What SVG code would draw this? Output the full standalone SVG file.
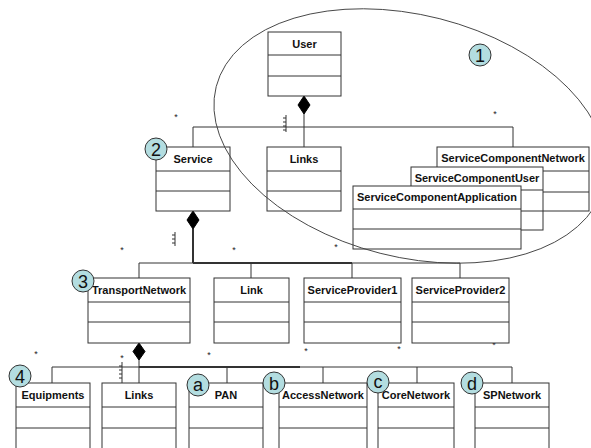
<svg xmlns="http://www.w3.org/2000/svg" width="591" height="448" viewBox="0 0 591 448">
<style>
.box rect{fill:#fff;stroke:#333;stroke-width:1}
.box line{stroke:#333;stroke-width:1}
.box text{font-family:"Liberation Sans",Arial,sans-serif;font-weight:bold;font-size:11px;fill:#111;text-anchor:middle}
.c line,.c path{stroke:#333;stroke-width:1;fill:none}
.c .thick{stroke-width:2}
.dia{fill:#000;stroke:#000}
.ast{font-family:"Liberation Sans",Arial,sans-serif;font-size:9px;fill:#222;text-anchor:middle}
.hatch{stroke:#555;stroke-width:1;fill:none}
.num circle{fill:#b3dde0;stroke:#333;stroke-width:1}
.num text{font-family:"Liberation Sans",Arial,sans-serif;font-size:18px;fill:#111;text-anchor:middle}
</style>
<rect width="591" height="448" fill="#fff"/>

<g id="connectors" class="c">
  <line x1="304" y1="114" x2="304" y2="147"/>
  <line x1="193" y1="127" x2="513" y2="127"/>
  <line x1="193" y1="127" x2="193" y2="147"/>
  <line x1="513" y1="127" x2="513" y2="147"/>
  <line class="thick" x1="193" y1="229" x2="193" y2="263"/>
  <line x1="139" y1="263" x2="460" y2="263"/>
  <line class="thick" x1="193" y1="263" x2="352" y2="263"/>
  <line x1="139" y1="263" x2="139" y2="278"/>
  <line x1="251" y1="263" x2="251" y2="278"/>
  <line x1="352" y1="263" x2="352" y2="278"/>
  <line x1="460" y1="263" x2="460" y2="278"/>
  <line x1="139" y1="360" x2="139" y2="383"/>
  <line x1="52" y1="367" x2="512" y2="367"/>
  <line class="thick" x1="139" y1="367" x2="300" y2="367"/>
  <line x1="52" y1="367" x2="52" y2="383"/>
  <line x1="227" y1="367" x2="227" y2="383"/>
  <line x1="323" y1="367" x2="323" y2="383"/>
  <line x1="417" y1="367" x2="417" y2="383"/>
  <line x1="512" y1="367" x2="512" y2="383"/>
  <polygon class="dia" points="304,96 310,105 304,114 298,105"/>
  <polygon class="dia" points="193,211 199,220 193,229 187,220"/>
  <polygon class="dia" points="139,343 145,351.5 139,360 133,351.5"/>
  <path class="hatch" d="M286,115 V132 M283,118 H286 M283,122 H286 M283,126 H286 M283,130 H286"/>
  <path class="hatch" d="M175,232 V246 M172,235 H175 M172,239 H175 M172,243 H175"/>
  <path class="hatch" d="M122,362 V383 M119,366 H122 M119,370 H122 M119,374 H122 M119,378 H122"/>
</g>

<g id="multiplicities">
  <text class="ast" x="176" y="120">*</text>
  <text class="ast" x="495" y="117">*</text>
  <text class="ast" x="122" y="253">*</text>
  <text class="ast" x="234" y="253">*</text>
  <text class="ast" x="336" y="250">*</text>
  <text class="ast" x="443" y="245">*</text>
  <text class="ast" x="36" y="357">*</text>
  <text class="ast" x="122" y="361">*</text>
  <text class="ast" x="209" y="358">*</text>
  <text class="ast" x="306" y="354">*</text>
  <text class="ast" x="399" y="352">*</text>
  <text class="ast" x="494" y="348">*</text>
</g>

<g id="User" class="box"><rect x="268" y="32" width="73" height="64"/><line x1="268" y1="55" x2="341" y2="55"/><line x1="268" y1="76" x2="341" y2="76"/><text x="304.5" y="48">User</text></g>
<g id="Service" class="box"><rect x="156" y="147" width="74" height="64"/><line x1="156" y1="171" x2="230" y2="171"/><line x1="156" y1="191" x2="230" y2="191"/><text x="193" y="163">Service</text></g>
<g id="Links1" class="box"><rect x="267" y="147" width="74" height="64"/><line x1="267" y1="171" x2="341" y2="171"/><line x1="267" y1="191" x2="341" y2="191"/><text x="304" y="163">Links</text></g>
<g id="ServiceComponentNetwork" class="box"><rect x="437" y="147" width="152" height="64"/><line x1="437" y1="171" x2="589" y2="171"/><line x1="437" y1="192" x2="589" y2="192"/><text x="513" y="162">ServiceComponentNetwork</text></g>
<g id="ServiceComponentUser" class="box"><rect x="411" y="167" width="132" height="63"/><line x1="411" y1="190" x2="543" y2="190"/><line x1="411" y1="211" x2="543" y2="211"/><text x="477" y="182">ServiceComponentUser</text></g>
<g id="ServiceComponentApplication" class="box"><rect x="353" y="186" width="168" height="63"/><line x1="353" y1="209" x2="521" y2="209"/><line x1="353" y1="229" x2="521" y2="229"/><text x="437" y="201">ServiceComponentApplication</text></g>

<g id="TransportNetwork" class="box"><rect x="88" y="278" width="102" height="65"/><line x1="88" y1="302" x2="190" y2="302"/><line x1="88" y1="322" x2="190" y2="322"/><text x="139" y="294">TransportNetwork</text></g>
<g id="Link" class="box"><rect x="214" y="278" width="75" height="65"/><line x1="214" y1="302" x2="289" y2="302"/><line x1="214" y1="322" x2="289" y2="322"/><text x="251.5" y="294">Link</text></g>
<g id="ServiceProvider1" class="box"><rect x="304" y="278" width="97" height="65"/><line x1="304" y1="302" x2="401" y2="302"/><line x1="304" y1="322" x2="401" y2="322"/><text x="352.5" y="294">ServiceProvider1</text></g>
<g id="ServiceProvider2" class="box"><rect x="412" y="278" width="97" height="65"/><line x1="412" y1="302" x2="509" y2="302"/><line x1="412" y1="322" x2="509" y2="322"/><text x="460.5" y="294">ServiceProvider2</text></g>

<g id="Equipments" class="box"><rect x="16" y="383" width="74" height="70"/><line x1="16" y1="407" x2="90" y2="407"/><line x1="16" y1="428" x2="90" y2="428"/><text x="53" y="399">Equipments</text></g>
<g id="Links2" class="box"><rect x="102" y="383" width="74" height="70"/><line x1="102" y1="407" x2="176" y2="407"/><line x1="102" y1="428" x2="176" y2="428"/><text x="139" y="399">Links</text></g>
<g id="PAN" class="box"><rect x="189" y="383" width="74" height="70"/><line x1="189" y1="407" x2="263" y2="407"/><line x1="189" y1="428" x2="263" y2="428"/><text x="226" y="399">PAN</text></g>
<g id="AccessNetwork" class="box"><rect x="279" y="383" width="88" height="70"/><line x1="279" y1="407" x2="367" y2="407"/><line x1="279" y1="428" x2="367" y2="428"/><text x="323" y="399">AccessNetwork</text></g>
<g id="CoreNetwork" class="box"><rect x="378" y="383" width="76" height="70"/><line x1="378" y1="407" x2="454" y2="407"/><line x1="378" y1="428" x2="454" y2="428"/><text x="416" y="399">CoreNetwork</text></g>
<g id="SPNetwork" class="box"><rect x="475" y="383" width="74" height="70"/><line x1="475" y1="407" x2="549" y2="407"/><line x1="475" y1="428" x2="549" y2="428"/><text x="512" y="399">SPNetwork</text></g>

<g id="boundary"><ellipse cx="410" cy="136" rx="200" ry="121" transform="rotate(14.3 410 136)" fill="none" stroke="#444" stroke-width="0.9"/></g>

<g id="marker1" class="num"><circle cx="480" cy="55" r="11"/><text x="480" y="61.5">1</text></g>
<g id="marker2" class="num"><circle cx="156" cy="149" r="11"/><text x="156" y="155.5">2</text></g>
<g id="marker3" class="num"><circle cx="83" cy="281" r="11"/><text x="83" y="287.5">3</text></g>
<g id="marker4" class="num"><circle cx="20" cy="376" r="11"/><text x="20" y="382.5">4</text></g>
<g id="markerA" class="num"><circle cx="198" cy="385" r="11"/><text x="198" y="391">a</text></g>
<g id="markerB" class="num"><circle cx="274" cy="383" r="11"/><text x="274" y="389.5">b</text></g>
<g id="markerC" class="num"><circle cx="378" cy="382" r="11"/><text x="378" y="388">c</text></g>
<g id="markerD" class="num"><circle cx="472" cy="383" r="11"/><text x="472" y="389.5">d</text></g>
</svg>
